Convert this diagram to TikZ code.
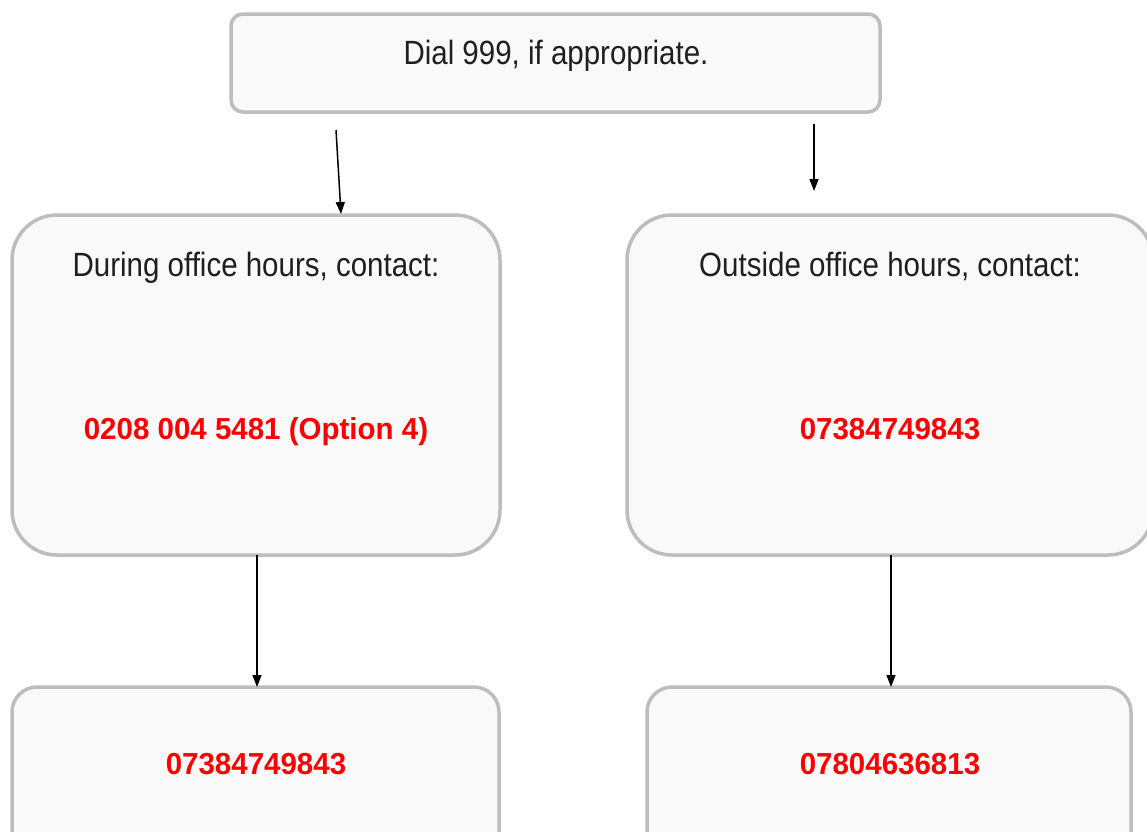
\documentclass[tikz,border=0pt]{standalone}
\usepackage{fontspec}
\setmainfont{Liberation Sans}
\usetikzlibrary{arrows.meta}
\definecolor{boxfill}{HTML}{F9F9F9}
\definecolor{boxline}{HTML}{BDBDBD}
\definecolor{redtxt}{HTML}{FF0000}
\tikzset{
  box/.style={draw=boxline, fill=boxfill, line width=3.5pt, rectangle, inner sep=0pt, outer sep=0pt},
  lbl/.style={font=\fontsize{29.5}{34}\selectfont, text=black!88, inner sep=0pt, anchor=base},
  num/.style={font=\fontsize{29.5}{34}\selectfont\bfseries, text=redtxt, inner sep=0pt, anchor=base},
  conn/.style={draw=black, line width=1.5pt, -{Triangle[length=12pt,width=9pt]}}
}
\begin{document}
\begin{tikzpicture}[x=1pt,y=-1pt]
\useasboundingbox (0,0) rectangle (1147,831);
\fill[white] (0,0) rectangle (1147,831);
% boxes
\node[box, rounded corners=12pt, minimum width=649pt, minimum height=98pt] (top) at (555.5,63) {};
\node[box, rounded corners=45pt, minimum width=488pt, minimum height=340pt] (midL) at (256,385) {};
\node[box, rounded corners=45pt, minimum width=526pt, minimum height=340pt] (midR) at (890,385) {};
\node[box, rounded corners=25pt, minimum width=487pt, minimum height=190pt] (botL) at (255.5,782) {};
\node[box, rounded corners=25pt, minimum width=484pt, minimum height=190pt] (botR) at (889,782) {};
% texts
\node[lbl] (ttop) at (556,64) {\scalebox{1}[1.14]{Dial 999, if appropriate.}};
\node[lbl] (tmidL) at (256,276) {\scalebox{1}[1.14]{During office hours, contact:}};
\node[num] (nmidL) at (256,439) {\scalebox{1}[1.03]{0208 004 5481 (Option 4)}};
\node[lbl] (tmidR) at (890,276) {\scalebox{1}[1.14]{Outside office hours, contact:}};
\node[num] (nmidR) at (890,439) {\scalebox{1}[1.03]{07384749843}};
\node[num] (nbotL) at (256,774) {\scalebox{1}[1.03]{07384749843}};
\node[num] (nbotR) at (890,774) {\scalebox{1}[1.03]{07804636813}};
% connector ends
\coordinate (a1s) at (336,130);
\coordinate (a1e) at (341,214);
\coordinate (a2s) at (814,124);
\coordinate (a2e) at (814,191);
% connectors
\draw[conn] (a1s) -- (a1e);
\draw[conn] (a2s) -- (a2e);
\draw[conn] ([xshift=1pt]midL.south) -- ([xshift=1pt]midL.south |- botL.north);
\draw[conn] ([xshift=1pt]midR.south) -- ([xshift=1pt]midR.south |- botR.north);
\end{tikzpicture}
\end{document}
